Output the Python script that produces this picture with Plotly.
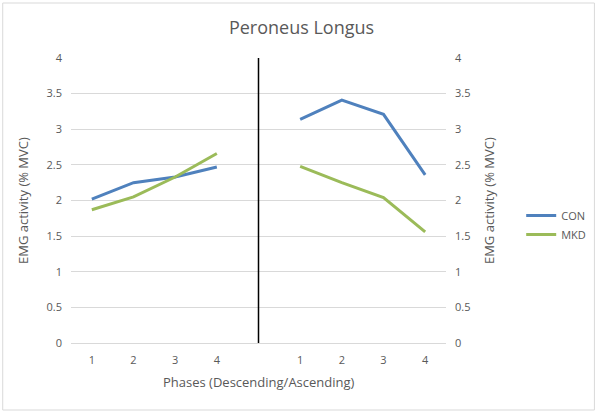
import plotly.graph_objects as go

categories = ["1", "2", "3", "4", "", "1", "2", "3", "4"]
con = [2.02, 2.25, 2.33, 2.47, None, 3.14, 3.41, 3.21, 2.36]
mkd = [1.87, 2.05, 2.33, 2.66, None, 2.48, 2.25, 2.04, 1.56]
y_ticks = [0, 0.5, 1, 1.5, 2, 2.5, 3, 3.5, 4]
y_tick_labels = ["0", "0.5", "1", "1.5", "2", "2.5", "3", "3.5", "4"]

xs = list(range(len(categories)))
font_fam = "Open Sans, Liberation Sans, sans-serif"
grey = "#595959"

fig = go.Figure()
fig.add_trace(go.Scatter(x=xs, y=con, mode="lines", name="CON",
                         line=dict(color="#4f81bd", width=3), connectgaps=False))
fig.add_trace(go.Scatter(x=xs, y=mkd, mode="lines", name="MKD",
                         line=dict(color="#9bbb59", width=3), connectgaps=False))
fig.add_trace(go.Scatter(x=[xs[0]], y=[0], yaxis="y2", mode="markers",
                         marker=dict(opacity=0), showlegend=False, hoverinfo="skip"))

fig.update_layout(
    width=603, height=414,
    margin=dict(l=71, r=153, t=58, b=71),
    paper_bgcolor="white", plot_bgcolor="white",
    font=dict(family=font_fam, color=grey, size=11),
    title=dict(text="Peroneus Longus", xref="container", x=0.5, xanchor="center",
               y=1 - 28 / 414, yanchor="middle", font=dict(size=18, color=grey)),
    xaxis=dict(range=[-0.5, len(categories) - 0.5], tickmode="array", tickvals=xs,
               ticktext=categories, showgrid=False, zeroline=False, showline=True,
               linecolor="#d9d9d9", ticks="", ticklabelstandoff=7,
               tickfont=dict(size=11, color=grey)),
    yaxis=dict(range=[0, 4], tickmode="array", tickvals=y_ticks, ticktext=y_tick_labels,
               showgrid=True, gridcolor="#d9d9d9", zeroline=False, ticks="",
               ticklabelstandoff=8, tickfont=dict(size=11, color=grey)),
    yaxis2=dict(range=[0, 4], overlaying="y", side="right", tickmode="array",
                tickvals=y_ticks, ticktext=y_tick_labels, showgrid=False, zeroline=False,
                ticks="", ticklabelstandoff=8, tickfont=dict(size=11, color=grey)),
    legend=dict(x=(526 - 71) / 379, y=(343 - 201) / 285, xanchor="left", yanchor="top",
                font=dict(size=11, color=grey), bgcolor="rgba(0,0,0,0)",
                tracegroupgap=8, itemwidth=30),
    showlegend=True,
)

fig.add_annotation(text="EMG activity (% MVC)", xref="paper", yref="paper",
                   x=(22 - 71) / 379, y=0.5, textangle=-90, showarrow=False,
                   font=dict(size=13, color=grey), xanchor="center", yanchor="middle")
fig.add_annotation(text="EMG activity (% MVC)", xref="paper", yref="paper",
                   x=(493 - 71) / 379, y=0.5, textangle=-90, showarrow=False,
                   font=dict(size=13, color=grey), xanchor="center", yanchor="middle")
fig.add_annotation(text="Phases (Descending/Ascending)", xref="paper", yref="paper",
                   x=0.5, y=(343 - 382) / 285, showarrow=False,
                   font=dict(size=13, color=grey), xanchor="center", yanchor="middle")

fig.add_shape(type="line", xref="x", yref="paper", x0=4, x1=4, y0=0, y1=1,
              line=dict(color="black", width=1.5))
fig.add_shape(type="rect", xref="paper", yref="paper",
              x0=(2 - 71) / 379, x1=(600 - 71) / 379,
              y0=(343 - 410) / 285, y1=(343 - 3) / 285,
              line=dict(color="#d9d9d9", width=1), layer="below")

fig.write_html("out.html")
